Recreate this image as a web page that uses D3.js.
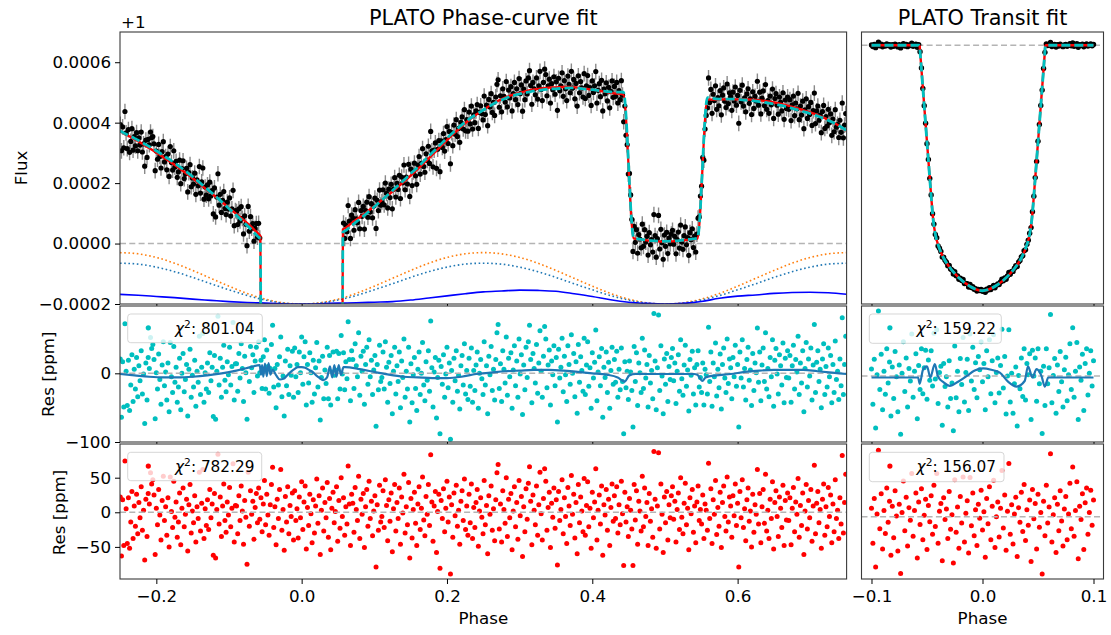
<!DOCTYPE html>
<html><head><meta charset="utf-8">
<script src="https://cdn.jsdelivr.net/npm/d3@7"></script>
<style>
body{margin:0;background:#fff}
svg{display:block}
text{font-family:"DejaVu Sans",sans-serif}
</style></head><body>
<svg id="fig" width="1111" height="635"></svg>
<script>
// ---------------- phase-curve bins (phase × 10^4) ----------------
const phaseE4 = [
-2496,-2480,-2464,-2448,-2432,-2416,-2400,-2384,-2368,-2352,-2336,-2320,-2304,-2288,-2272,-2256,-2240,-2224,-2208,-2192,-2176,-2160,-2144,-2128,-2112,
-2096,-2080,-2064,-2048,-2032,-2016,-2000,-1984,-1968,-1952,-1936,-1920,-1904,-1888,-1872,-1856,-1840,-1824,-1808,-1792,-1776,-1760,-1744,-1728,-1712,
-1696,-1680,-1664,-1648,-1632,-1616,-1600,-1584,-1568,-1552,-1536,-1520,-1504,-1488,-1472,-1456,-1440,-1424,-1408,-1392,-1376,-1360,-1344,-1328,-1312,
-1296,-1280,-1264,-1248,-1232,-1216,-1200,-1184,-1168,-1152,-1136,-1120,-1104,-1088,-1072,-1056,-1040,-1024,-1008,-992,-976,-960,-944,-928,-912,
-896,-880,-864,-848,-832,-816,-800,-784,-768,-752,-736,-720,-704,-688,-672,-656,-640,-624,-608,-592,-576,-560,-544,-528,-512,
-496,-480,-464,-448,-432,-416,-400,-384,-368,-352,-336,-320,-304,-288,-272,-256,-240,-224,-208,-192,-176,-160,-144,-128,-112,
-96,-80,-64,-48,-32,-16,0,16,32,48,64,80,96,112,128,144,160,176,192,208,224,240,256,272,288,
304,320,336,352,368,384,400,416,432,448,464,480,496,512,528,544,560,576,592,608,624,640,656,672,688,
704,720,736,752,768,784,800,816,832,848,864,880,896,912,928,944,960,976,992,1008,1024,1040,1056,1072,1088,
1104,1120,1136,1152,1168,1184,1200,1216,1232,1248,1264,1280,1296,1312,1328,1344,1360,1376,1392,1408,1424,1440,1456,1472,1488,
1504,1520,1536,1552,1568,1584,1600,1616,1632,1648,1664,1680,1696,1712,1728,1744,1760,1776,1792,1808,1824,1840,1856,1872,1888,
1904,1920,1936,1952,1968,1984,2000,2016,2032,2048,2064,2080,2096,2112,2128,2144,2160,2176,2192,2208,2224,2240,2256,2272,2288,
2304,2320,2336,2352,2368,2384,2400,2416,2432,2448,2464,2480,2496,2512,2528,2544,2560,2576,2592,2608,2624,2640,2656,2672,2688,
2704,2720,2736,2752,2768,2784,2800,2816,2832,2848,2864,2880,2896,2912,2928,2944,2960,2976,2992,3008,3024,3040,3056,3072,3088,
3104,3120,3136,3152,3168,3184,3200,3216,3232,3248,3264,3280,3296,3312,3328,3344,3360,3376,3392,3408,3424,3440,3456,3472,3488,
3504,3520,3536,3552,3568,3584,3600,3616,3632,3648,3664,3680,3696,3712,3728,3744,3760,3776,3792,3808,3824,3840,3856,3872,3888,
3904,3920,3936,3952,3968,3984,4000,4016,4032,4048,4064,4080,4096,4112,4128,4144,4160,4176,4192,4208,4224,4240,4256,4272,4288,
4304,4320,4336,4352,4368,4384,4400,4416,4432,4448,4464,4480,4496,4512,4528,4544,4560,4576,4592,4608,4624,4640,4656,4672,4688,
4704,4720,4736,4752,4768,4784,4800,4816,4832,4848,4864,4880,4896,4912,4928,4944,4960,4976,4992,5008,5024,5040,5056,5072,5088,
5104,5120,5136,5152,5168,5184,5200,5216,5232,5248,5264,5280,5296,5312,5328,5344,5360,5376,5392,5408,5424,5440,5456,5472,5488,
5504,5520,5536,5552,5568,5584,5600,5616,5632,5648,5664,5680,5696,5712,5728,5744,5760,5776,5792,5808,5824,5840,5856,5872,5888,
5904,5920,5936,5952,5968,5984,6000,6016,6032,6048,6064,6080,6096,6112,6128,6144,6160,6176,6192,6208,6224,6240,6256,6272,6288,
6304,6320,6336,6352,6368,6384,6400,6416,6432,6448,6464,6480,6496,6512,6528,6544,6560,6576,6592,6608,6624,6640,6656,6672,6688,
6704,6720,6736,6752,6768,6784,6800,6816,6832,6848,6864,6880,6896,6912,6928,6944,6960,6976,6992,7008,7024,7040,7056,7072,7088,
7104,7120,7136,7152,7168,7184,7200,7216,7232,7248,7264,7280,7296,7312,7328,7344,7360,7376,7392,7408,7424,7440,7456,7472,7488];

// binned flux, ppm above 1 (null: inside the primary transit, far below the axis)
const _ = null;
const fluxPpm = [
394,307,386,317,437,366,314,377,302,338,380,309,354,323,367,307,350,326,369,303,330,256,342,285,345,
327,369,351,354,330,241,306,279,328,288,250,304,337,270,288,244,296,222,321,268,243,307,253,272,219,
237,276,198,248,274,215,230,249,171,235,261,188,217,197,233,163,211,191,255,167,204,250,147,187,160,
194,148,203,158,175,98,184,88,154,231,127,163,103,143,172,116,96,137,114,151,91,115,176,59,109,
106,63,115,75,122,83,32,92,64,-7,123,41,89,51,66,8,50,66,21,67,18,_,_,_,_,
_,_,_,_,_,_,_,_,_,_,_,_,_,_,_,_,_,_,_,_,_,_,_,_,_,
_,_,_,_,_,_,_,_,_,_,_,_,_,_,_,_,_,_,_,_,_,_,_,_,_,
_,_,_,_,_,_,_,_,_,_,_,_,_,_,_,_,_,68,17,61,39,126,74,17,94,
84,44,112,82,69,136,49,109,90,123,48,109,137,87,155,104,132,85,124,150,50,143,109,177,127,
138,178,128,200,166,118,180,152,196,115,180,218,154,199,179,226,149,220,201,260,178,220,197,262,156,
246,192,237,266,224,196,260,288,230,265,314,255,236,297,275,322,265,371,307,254,309,333,249,312,341,
238,340,318,364,306,344,387,331,371,264,367,324,392,362,410,354,381,335,401,419,379,443,373,410,372,
435,396,455,379,426,400,439,460,381,434,456,430,409,488,427,458,390,477,452,496,434,467,424,485,527,
542,451,489,436,512,487,468,536,452,508,482,519,439,496,533,476,512,460,546,496,525,438,511,476,538,
495,548,572,523,461,533,512,492,548,478,522,570,510,473,533,577,559,489,522,544,465,529,509,552,494,
535,441,547,506,522,565,487,539,512,473,554,527,499,570,514,543,479,530,455,555,499,536,515,485,562,
480,522,556,490,516,457,538,500,522,569,465,507,529,486,540,439,511,496,532,472,517,449,504,538,484,
520,487,533,465,506,476,539,491,403,455,358,327,230,232,161,80,-26,57,4,46,-32,30,15,-14,64,
-9,46,5,24,-38,36,-4,13,-28,96,26,-45,16,93,-18,47,3,-52,28,-9,37,-33,18,-1,31,
44,-2,24,-34,13,38,-15,61,5,-19,26,55,-4,20,-39,36,13,49,-13,25,-28,31,84,88,157,
190,285,276,379,424,449,548,467,510,431,494,473,522,444,483,456,506,426,491,515,471,450,528,463,499,
486,441,501,472,518,458,490,398,507,469,524,455,482,436,495,512,464,479,427,502,447,487,472,537,458,
501,429,481,505,456,526,444,473,431,488,459,511,414,480,496,458,428,485,468,439,499,411,475,447,485,
444,476,407,459,488,423,465,446,497,410,455,425,471,380,442,479,414,453,427,467,391,440,498,397,439,
455,408,425,367,437,457,381,420,389,444,400,429,358,412,370,443,385,394,351,408,368,465,350,392,430];
const fluxErrPpm = 26;

// residuals of the red (solid) model, ppm
const resRed = [
22,-63,18,-48,74,5,-45,21,-52,-14,30,-38,9,-20,26,-31,14,-8,37,-26,3,-69,19,-35,27,
12,57,41,47,25,-61,6,-18,33,-4,-40,17,52,-12,8,-33,21,-50,51,1,-22,45,-7,15,-36,
-14,28,-47,6,35,-21,-3,19,-56,11,40,-30,2,-15,24,-43,8,-9,58,-27,13,62,-38,5,-19,
18,-25,33,-8,12,-62,27,-66,4,84,-17,22,-35,9,41,-12,-29,15,-4,36,-21,6,70,-43,10,
9,-31,24,-12,38,2,-46,17,-7,-75,58,-20,31,-3,16,-39,7,27,-15,35,-10,21,-28,12,46,
-18,26,-4,-33,11,40,65,-22,8,-47,19,-9,33,62,-26,4,-55,23,-14,37,-31,10,-6,28,-40,
31,-12,5,-37,22,-8,44,-25,15,38,-53,7,-19,26,-2,-44,18,-30,9,48,-16,24,-61,3,35,
-27,14,-8,43,-36,20,-54,6,29,-15,1,37,-42,17,-23,50,-6,21,-33,8,-17,67,12,-48,26,
13,-29,36,4,-12,52,-38,19,-3,27,-51,8,33,-20,45,-9,16,-34,2,24,-79,11,-26,39,-14,
-6,31,-22,47,10,-41,18,-13,28,-57,5,40,-27,14,-9,35,-46,22,-1,55,-30,8,-18,43,-66,
20,-37,4,29,-16,-48,12,37,-25,6,51,-11,-34,23,-3,40,-19,83,15,-42,9,30,-58,1,26,
-81,17,-9,34,-28,6,45,-14,22,-89,11,-36,28,-5,39,-20,3,-46,16,31,-12,48,-25,9,-33,
26,-15,41,-38,7,-22,14,33,-49,2,21,-7,-31,46,-18,10,-60,24,-3,38,-26,5,-41,18,57,
69,-24,12,-43,31,4,-16,50,-35,19,-8,27,-54,2,37,-21,14,-39,46,-5,23,-64,8,-28,34,
-10,42,66,16,-47,25,3,-18,38,-33,11,58,-2,-40,20,63,45,-26,7,29,-51,13,-7,35,-23,
18,-76,30,-12,4,47,-31,21,-6,-45,36,9,-19,53,-3,26,-37,14,-60,40,-15,22,2,-28,49,
-33,10,44,-21,6,-52,29,-8,15,63,-40,3,25,-17,38,-62,11,-4,33,-26,19,-48,7,41,-13,
24,-9,37,-30,11,-18,45,-2,-77,29,-14,8,-35,20,3,-24,-77,40,-11,31,-46,16,2,-27,52,
-21,35,-6,14,-48,27,-13,5,-36,88,19,-52,9,86,-24,41,-3,-58,22,-15,30,-40,11,-8,24,
37,-10,16,-43,4,28,-25,50,-7,-31,13,42,-18,6,-54,21,-2,33,-29,9,-44,15,38,-12,4,
-17,25,-38,12,3,-26,71,-9,34,-45,18,-3,46,-32,7,-20,29,-51,14,38,-6,-27,51,-14,22,
9,-36,24,-5,41,-19,13,-79,30,-8,47,-22,5,-41,18,35,-13,2,-50,26,-29,11,-3,62,-17,
27,-44,8,33,-16,55,-27,3,-38,19,-9,44,-53,14,31,-6,-35,22,6,-22,39,-48,17,-11,28,
-12,21,-47,6,36,-28,15,-3,49,-36,10,-19,28,-61,2,40,-24,17,-8,33,-42,9,68,-31,13,
30,-15,4,-52,19,41,-33,8,-21,36,-6,25,-44,12,-28,47,-9,3,-38,21,-17,82,-30,14,55];

// residuals of the cyan (dashed) model, ppm
const resCyan = [
21,-64,17,-49,72,3,-47,19,-54,-17,27,-41,6,-23,23,-34,11,-11,33,-30,-1,-73,15,-39,23,
7,52,36,42,20,-66,1,-23,28,-9,-45,12,46,-18,2,-39,15,-56,45,-5,-28,39,-13,9,-42,
-20,22,-53,0,29,-27,-9,13,-62,6,35,-35,-3,-20,19,-48,3,-13,54,-31,9,58,-42,1,-23,
15,-28,30,-11,9,-63,26,-67,3,83,-17,22,-35,9,41,-10,-27,17,-2,38,-17,10,74,-39,14,
14,-26,29,-7,43,7,-41,25,1,-67,66,-12,39,8,27,-28,18,38,-4,46,1,19,-22,24,49,
-23,34,10,-29,7,42,70,-20,7,-50,13,-17,24,53,-34,-4,-62,18,-18,35,-31,11,-3,32,-35,
37,-5,13,-28,31,1,53,-16,24,46,-46,13,-14,30,1,-42,19,-30,8,45,-20,18,-68,-6,25,
-37,5,-15,38,-37,26,-46,2,31,-3,5,32,-37,29,-23,55,-1,30,-24,17,-8,75,20,-40,33,
20,-22,43,11,-5,59,-32,25,3,32,-45,13,38,-16,49,-5,19,-31,5,26,-77,13,-24,41,-12,
-6,31,-23,46,9,-42,16,-15,26,-59,3,38,-30,11,-12,31,-50,18,-6,50,-35,3,-23,38,-71,
14,-43,-2,23,-22,-54,6,31,-31,0,45,-17,-40,17,-10,33,-26,76,8,-49,2,23,-65,-6,19,
-88,10,-16,27,-35,-1,38,-21,15,-96,4,-42,22,-11,33,-26,-3,-52,11,26,-17,43,-30,4,-38,
22,-19,37,-42,4,-25,12,31,-51,0,20,-8,-31,46,-17,11,-59,25,-2,39,-25,6,-39,20,59,
71,-22,14,-41,33,6,-14,53,-32,22,-5,30,-51,5,40,-18,18,-35,50,-1,27,-60,12,-24,38,
-6,46,70,20,-43,29,7,-14,42,-29,15,62,3,-35,25,68,50,-21,12,34,-46,18,-2,40,-18,
23,-71,35,-7,9,51,-27,25,-2,-41,40,13,-16,56,0,29,-34,17,-58,42,-13,24,4,-26,51,
-31,12,46,-19,8,-51,30,-7,16,63,-40,2,24,-18,36,-64,9,-6,31,-28,16,-51,4,38,-16,
20,-13,32,-35,6,-24,37,-12,-88,17,-21,3,-38,18,2,-25,-78,39,-12,30,-47,15,1,-28,51,
-22,34,-7,13,-49,26,-14,4,-37,87,18,-53,8,85,-25,40,-4,-59,21,-16,29,-41,10,-9,23,
36,-11,15,-44,3,27,-26,49,-8,-32,12,41,-19,5,-55,20,-3,32,-30,8,-46,13,33,-20,-6,
-28,15,-46,6,-2,-30,67,-12,31,-48,15,-5,44,-33,6,-21,28,-52,13,37,-7,-28,50,-15,21,
8,-37,23,-5,41,-19,13,-78,31,-7,49,-20,7,-39,20,38,-10,5,-47,29,-25,15,1,66,-13,
31,-40,12,37,-12,59,-23,7,-34,23,-5,49,-48,19,36,-1,-30,27,11,-17,44,-43,22,-6,33,
-7,26,-42,11,41,-23,20,2,54,-31,15,-14,33,-56,7,45,-20,21,-4,37,-39,12,71,-28,16,
33,-12,6,-50,21,43,-31,10,-20,37,-5,26,-43,13,-28,47,-9,3,-38,21,-18,81,-31,13,54];

// fitted phase-curve models (knots, ppm)
const modelPhase = [-0.25,-0.24,-0.23,-0.22,-0.21,-0.20,-0.19,-0.18,-0.17,-0.16,-0.15,-0.14,-0.13,-0.12,-0.11,-0.10,-0.09,-0.08,-0.07,
 -0.065,-0.06,-0.0576,-0.0568,-0.0562,-0.05,0,0.05,0.0562,0.0568,0.06,
 0.07,0.08,0.09,0.10,0.11,0.12,0.13,0.14,0.15,0.16,0.17,0.18,0.19,0.20,0.21,0.22,0.23,0.24,0.25,0.26,0.27,0.28,0.29,0.30,0.31,0.32,0.33,0.34,0.35,0.36,0.37,0.38,0.39,0.40,0.41,0.42,0.43,
 0.4428,0.457,0.47,0.48,0.49,0.50,0.51,0.52,0.53,0.5447,0.5585,
 0.57,0.58,0.59,0.60,0.61,0.62,0.63,0.64,0.65,0.66,0.67,0.68,0.69,0.70,0.71,0.72,0.73,0.74,0.75];
const modelRed = [372,358,345,331,316,301,285,269,252,234,216,197,177,158,138,118,98,78,57,
 45,34,28,25,-300,-3000,-7570,-3000,-300,47,51,
 70,87,105,124,143,162,182,203,225,247,270,294,318,342,365,387,408,426,442,458,472,483,492,499,505,510,513,516,517,518,518,516,513,509,505,501,497,
 493,17,12,9,7,6,7,9,12,16,477,
 476,477,477,477,477,476,474,471,467,462,456,449,442,434,425,415,403,389,373];
const modelCyan = [373,360,348,335,321,307,291,275,258,240,221,201,180,160,138,116,94,71,48,
 35,23,17,14,-300,-3000,-7570,-3000,-300,38,42,
 62,81,101,122,143,164,186,208,231,253,277,301,325,349,371,392,411,427,442,457,470,480,489,495,500,505,508,511,512,514,515,514,511,509,506,503,501,
 501,19,13,10,8,7,8,10,13,18,483,
 479,478,478,477,475,473,470,466,462,457,451,444,437,430,422,413,402,389,374];

// model components drawn below the light curve (ppm)
const compPhase = [-0.25,-0.225,-0.2,-0.175,-0.15,-0.125,-0.1,-0.075,-0.05,-0.025,0,0.025,0.05,0.075,0.1,0.125,0.15,0.175,0.2,0.225,
 0.25,0.275,0.3,0.325,0.35,0.375,0.4,0.425,0.45,0.475,0.5,0.525,0.55,0.575,0.6,0.625,0.65,0.675,0.7,0.725,0.75];
const compOrange = [-30,-34,-46,-65,-89,-115,-141,-165,-184,-196,-200,-196,-184,-165,-141,-115,-89,-65,-46,-34,
 -30,-34,-46,-65,-89,-115,-141,-165,-184,-196,-200,-196,-184,-165,-141,-115,-89,-65,-46,-34,-30];
const compBlueDotted = [-65,-68,-78,-93,-112,-133,-153,-172,-187,-197,-200,-197,-187,-172,-153,-133,-112,-93,-78,-68,
 -65,-68,-78,-93,-112,-133,-153,-172,-187,-197,-200,-197,-187,-172,-153,-133,-112,-93,-78,-68,-65];
const compBlue = [-168,-171,-175,-179,-184,-188,-192,-195,-197,-199,-200,-199,-197,-196,-194,-192,-187,-180,-173,-166,
 -160,-157,-154,-155,-158,-166,-175,-186,-194,-198,-200,-198,-192,-181,-174,-170,-165,-162,-161,-163,-168];

// difference between the two fits, drawn over the cyan residuals (ppm)
const diffPhase = [-0.25,-0.23,-0.21,-0.19,-0.17,-0.15,-0.13,-0.11,-0.09,-0.07,-0.0576,-0.056,-0.0544,-0.0528,-0.0505,-0.048,-0.0455,-0.043,-0.04,-0.035,
 -0.03,-0.025,-0.02,-0.015,-0.01,-0.005,0,0.005,0.01,0.015,0.02,0.025,0.03,0.035,0.039,0.042,0.045,0.048,0.051,0.054,
 0.0576,0.06,0.08,0.10,0.12,0.14,0.16,0.18,0.20,0.22,0.24,0.26,0.28,0.30,0.32,0.34,0.36,0.38,0.40,0.42,
 0.435,0.4445,0.451,0.46,0.50,0.54,0.5445,0.5515,0.556,0.57,0.59,0.61,0.63,0.65,0.67,0.69,0.71,0.73,0.75];
const diffPpm = [-1,-3,-5,-6,-6,-5,-3,0,4,9,12,-2,12,-5,14,-4,15,-2,5,-3,
 -9,-8,-3,2,6,9,9,8,5,2,-3,-7,-10,-6,10,-6,12,-5,12,-2,
 9,9,6,2,-2,-5,-6,-7,-7,-5,-1,1,3,4,5,5,4,2,0,-2,
 -6,-12,-3,-1,-1,-1,-2,-11,-6,-3,-1,2,4,5,5,5,3,1,-1];

// ---------------- primary transit (phase × 10^5) ----------------
const trPhaseE5 = [
-10000,-9875,-9750,-9625,-9500,-9375,-9250,-9125,-9000,-8875,-8750,-8625,-8500,-8375,-8250,-8125,-8000,-7875,-7750,-7625,
-7500,-7375,-7250,-7125,-7000,-6875,-6750,-6625,-6500,-6375,-6250,-6125,-6000,-5875,-5750,-5625,-5500,-5375,-5250,-5125,
-5000,-4875,-4750,-4625,-4500,-4375,-4250,-4125,-4000,-3875,-3750,-3625,-3500,-3375,-3250,-3125,-3000,-2875,-2750,-2625,
-2500,-2375,-2250,-2125,-2000,-1875,-1750,-1625,-1500,-1375,-1250,-1125,-1000,-875,-750,-625,-500,-375,-250,-125,
0,125,250,375,500,625,750,875,1000,1125,1250,1375,1500,1625,1750,1875,2000,2125,2250,2375,
2500,2625,2750,2875,3000,3125,3250,3375,3500,3625,3750,3875,4000,4125,4250,4375,4500,4625,4750,4875,
5000,5125,5250,5375,5500,5625,5750,5875,6000,6125,6250,6375,6500,6625,6750,6875,7000,7125,7250,7375,
7500,7625,7750,7875,8000,8125,8250,8375,8500,8625,8750,8875,9000,9125,9250,9375,9500,9625,9750,9875,10000];
const trFluxPpm = [
12,-38,26,-72,4,95,-17,33,-46,9,-24,41,-8,22,-55,15,-30,37,1,-49,
18,-81,6,51,-20,28,-42,13,-5,62,-28,9,34,-59,21,-201,-700,-1333,-1863,-2405,
-3037,-3524,-4107,-4620,-5195,-5515,-5834,-5938,-6188,-6262,-6361,-6533,-6533,-6634,-6689,-6801,-6794,-6898,-6932,-7056,
-6987,-7107,-7111,-7215,-7181,-7254,-7223,-7351,-7345,-7357,-7457,-7379,-7473,-7446,-7527,-7510,-7581,-7532,-7562,-7529,
-7589,-7560,-7618,-7524,-7550,-7477,-7533,-7465,-7408,-7479,-7405,-7359,-7379,-7303,-7214,-7261,-7179,-7218,-7117,-7009,
-7065,-6973,-6974,-6876,-6802,-6827,-6687,-6638,-6525,-6491,-6334,-6304,-6140,-6012,-5796,-5624,-5131,-4653,-4081,-3586,
-2958,-2445,-1859,-1382,-718,-217,45,-9,14,90,-36,3,27,-51,18,-20,37,-6,-42,11,
29,-33,4,48,-17,71,-28,9,50,-60,15,-4,33,-47,20,41,-25,6,38,-12,24];
const trResRed = [
12,-38,26,-72,4,95,-17,33,-46,9,-24,41,-8,22,-55,15,-30,37,1,-49,
18,-81,6,51,-20,28,-42,13,-5,62,-28,9,34,-59,21,-11,40,-33,2,25,
-47,16,-7,30,-25,45,-14,62,-38,8,19,-63,27,-4,11,-31,36,-18,3,-66,
53,-22,14,-45,29,-9,57,-36,5,23,-52,56,-13,34,-27,10,-41,18,-2,38,
-19,7,-58,26,-10,43,-33,15,52,-44,0,21,-29,12,66,-16,31,-48,8,76,
-25,17,-39,4,28,-57,13,-8,35,-21,46,-34,10,-12,24,-64,39,-3,19,-46,
32,-15,6,-82,22,-27,45,-9,14,90,-36,3,27,-51,18,-20,37,-6,-42,11,
29,-33,4,48,-17,71,-28,9,50,-60,15,-4,33,-47,20,41,-25,6,38,-12,24];
const trResCyan = [
10,-40,24,-74,2,93,-19,31,-48,7,-26,39,-10,20,-57,13,-32,35,-1,-51,
16,-83,4,49,-22,26,-44,11,-7,60,-30,7,32,-61,15,-19,39,-25,12,37,
-33,23,-6,36,-14,61,-4,66,-39,5,14,-70,18,-15,-1,-44,22,-32,-10,-78,
43,-31,7,-51,25,-12,55,-37,5,24,-49,60,-7,41,-19,19,-31,28,9,49,
-8,18,-48,36,-1,52,-25,22,59,-38,5,26,-24,15,67,-17,28,-54,0,66,
-37,4,-53,-11,13,-71,1,-18,26,-29,39,-34,18,2,32,-62,37,0,26,-36,
39,-11,7,-82,14,-42,39,-11,12,88,-38,1,25,-53,16,-22,35,-8,-44,9,
27,-35,2,46,-19,69,-30,7,48,-62,13,-6,31,-49,18,39,-27,4,36,-14,22];

const trModelPhase = [-0.1,-0.0572,-0.0566,-0.056,-0.055,-0.054,-0.053,-0.052,-0.051,-0.05,-0.049,-0.048,-0.047,-0.046,-0.045,-0.044,-0.043,-0.042,-0.04,-0.038,
 -0.035,-0.03,-0.025,-0.02,-0.015,-0.01,-0.005,0,0.005,0.01,0.015,0.02,0.025,0.03,0.035,0.038,0.04,0.042,0.043,0.044,
 0.045,0.046,0.047,0.048,0.049,0.05,0.051,0.052,0.053,0.054,0.055,0.056,0.0566,0.0572,0.1];
const trModel = [0,0,-30,-290,-740,-1190,-1640,-2090,-2540,-2990,-3430,-3880,-4320,-4760,-5170,-5500,-5730,-5910,-6150,-6340,
 -6560,-6830,-7040,-7210,-7350,-7460,-7540,-7570,-7540,-7460,-7350,-7210,-7040,-6830,-6560,-6340,-6150,-5910,-5730,-5500,
 -5170,-4760,-4320,-3880,-3430,-2990,-2540,-2090,-1640,-1190,-740,-290,-30,0,0];
const trDiffPhase = [-0.1,-0.058,-0.0566,-0.0536,-0.05,-0.047,-0.043,-0.04,-0.035,-0.0295,-0.022,-0.0144,-0.007,0.0005,0.008,0.0156,0.023,0.0307,0.038,0.041,0.045,0.0487,0.0532,0.0562,0.0592,0.1];
const trDiff = [-2,-2,-11,9,14,-2,17,-1,-9,-14,-8,0,8,11,9,5,-8,-15,-7,14,-2,10,0,-15,-2,-2];

// goodness of fit shown in the legends
const chiPhaseCurve = ["801.04", "782.29"];
const chiTransit = ["159.22", "156.07"];

// tick values
const fluxTicks = [-200, 0, 200, 400, 600];
const resTicksMid = [-100, 0];
const resTicksBot = [-50, 0, 50];
const phaseTicks = [-0.2, 0, 0.2, 0.4, 0.6];
const trPhaseTicks = [-0.1, 0, 0.1];

// ---------------- drawing ----------------
const RED = "#ff0000", CYAN = "#00bfbf", TABBLUE = "#1f77b4", TABORANGE = "#ff7f0e";
const FS = 16.7;
const svg = d3.select("#fig");
const defs = svg.append("defs");

const xMain = d3.scaleLinear().domain([-0.25, 0.75]).range([120, 846.6]);
const xTr = d3.scaleLinear().domain([-0.109, 0.109]).range([861.5, 1103.5]);
const yTop = d3.scaleLinear().domain([-200, 700]).range([304, 32]);
const yMid = d3.scaleLinear().domain([-100, 98]).range([442, 306]);
const yBot = d3.scaleLinear().domain([-96.4, 98.7]).range([579, 444]);
const yTrTop = d3.scaleLinear().domain([-7980, 410]).range([304, 32]);
const yTrMid = d3.scaleLinear().domain([-94, 100]).range([442, 306]);
const yTrBot = d3.scaleLinear().domain([-89, 104]).range([579, 444]);

let clipN = 0;
function makePanel(x, y) {
  const [x0, x1] = x.range();
  const [yb, yt] = y.range();
  const id = "clip" + (clipN++);
  defs.append("clipPath").attr("id", id).append("rect")
    .attr("x", x0).attr("y", yt).attr("width", x1 - x0).attr("height", yb - yt);
  const root = svg.append("g");
  root.append("rect").attr("x", x0).attr("y", yt).attr("width", x1 - x0).attr("height", yb - yt).attr("fill", "#fff");
  const plot = root.append("g").attr("clip-path", `url(#${id})`);
  return { x, y, root, plot, x0, x1, yt, yb };
}
function frame(p) {
  p.root.append("rect").attr("x", p.x0).attr("y", p.yt)
    .attr("width", p.x1 - p.x0).attr("height", p.yb - p.yt)
    .attr("fill", "none").attr("stroke", "#3a3a3a").attr("stroke-width", 1.1);
}
const minus = s => s.replace("-", "\u2212");
function styleAxis(g) {
  g.select(".domain").remove();
  g.attr("font-family", "DejaVu Sans, sans-serif").attr("font-size", FS).attr("color", "#000");
  g.selectAll(".tick line").attr("stroke-width", 1);
}
function xAxis(p, ticks, labelled, fmt) {
  const ax = d3.axisBottom(p.x).tickValues(ticks).tickSize(5).tickPadding(6.5)
    .tickFormat(labelled ? fmt : () => "");
  p.root.append("g").attr("transform", `translate(0,${p.yb})`).call(ax).call(styleAxis);
}
function yAxis(p, ticks, fmt) {
  const ax = d3.axisLeft(p.y).tickValues(ticks).tickSize(5).tickPadding(4).tickFormat(fmt);
  p.root.append("g").attr("transform", `translate(${p.x0},0)`).call(ax).call(styleAxis);
}
function curve(p, xs, ys) {
  return d3.line().x(d => p.x(d[0])).y(d => p.y(d[1])).curve(d3.curveMonotoneX)(d3.zip(xs, ys));
}
function zeroLine(p, v) {
  p.plot.append("line").attr("x1", p.x0).attr("x2", p.x1).attr("y1", p.y(v)).attr("y2", p.y(v))
    .attr("stroke", "#b4b4b4").attr("stroke-width", 1.5).attr("stroke-dasharray", "6,3.3");
}
function dots(p, xs, ys, color, r) {
  p.plot.append("g").selectAll("circle").data(d3.zip(xs, ys)).join("circle")
    .attr("cx", d => p.x(d[0])).attr("cy", d => p.y(d[1])).attr("r", r).attr("fill", color);
}
function legend(p, x0, y0, w, h, color, chi) {
  const g = p.root.append("g");
  g.append("rect").attr("x", x0).attr("y", y0).attr("width", w).attr("height", h).attr("rx", 3)
    .attr("fill", "#fff").attr("fill-opacity", 0.8).attr("stroke", "#cccccc").attr("stroke-opacity", 0.8);
  g.append("circle").attr("cx", x0 + 20.6).attr("cy", y0 + 13.8).attr("r", 2.6).attr("fill", color);
  const t = g.append("text").attr("x", x0 + 47.3).attr("y", y0 + 20).attr("font-size", 15.3).attr("fill", "#000");
  t.append("tspan").attr("font-style", "italic").text("\u03c7");
  t.append("tspan").attr("dy", -6.5).attr("font-size", 10.7).text("2");
  t.append("tspan").attr("dy", 6.5).text(": " + chi);
}

const phase = phaseE4.map(v => v / 1e4);
const trPhase = trPhaseE5.map(v => v / 1e5);

// ---- phase curve: flux ----
const pTop = makePanel(xMain, yTop);
zeroLine(pTop, 0);
pTop.plot.append("path").attr("d", curve(pTop, compPhase, compOrange)).attr("fill", "none")
  .attr("stroke", TABORANGE).attr("stroke-width", 1.6).attr("stroke-dasharray", "1.6,2.6");
pTop.plot.append("path").attr("d", curve(pTop, compPhase, compBlueDotted)).attr("fill", "none")
  .attr("stroke", TABBLUE).attr("stroke-width", 1.6).attr("stroke-dasharray", "1.6,2.6");
pTop.plot.append("path").attr("d", curve(pTop, compPhase, compBlue)).attr("fill", "none")
  .attr("stroke", "#0000ff").attr("stroke-width", 1.6);
const obs = d3.zip(phase, fluxPpm).filter(d => d[1] !== null);
pTop.plot.append("g").selectAll("line").data(obs).join("line")
  .attr("x1", d => xMain(d[0])).attr("x2", d => xMain(d[0]))
  .attr("y1", d => yTop(d[1] - fluxErrPpm)).attr("y2", d => yTop(d[1] + fluxErrPpm))
  .attr("stroke", "#8a8a8a").attr("stroke-width", 1.4);
dots(pTop, obs.map(d => d[0]), obs.map(d => d[1]), "#000", 2.6);
pTop.plot.append("path").attr("d", curve(pTop, modelPhase, modelRed)).attr("fill", "none")
  .attr("stroke", RED).attr("stroke-width", 2.3);
pTop.plot.append("path").attr("d", curve(pTop, modelPhase, modelCyan)).attr("fill", "none")
  .attr("stroke", CYAN).attr("stroke-width", 2.8).attr("stroke-dasharray", "9,4");
frame(pTop);
xAxis(pTop, phaseTicks, false);
yAxis(pTop, fluxTicks, v => minus((v / 1e6).toFixed(4)));

// ---- phase curve: residuals of the cyan fit ----
const pMid = makePanel(xMain, yMid);
dots(pMid, phase, resCyan, CYAN, 2.5);
zeroLine(pMid, 0);
pMid.plot.append("path").attr("d", curve(pMid, diffPhase, diffPpm)).attr("fill", "none")
  .attr("stroke", TABBLUE).attr("stroke-width", 2.2);
legend(pMid, 127.7, 314, 134.6, 28.7, CYAN, chiPhaseCurve[0]);
frame(pMid);
xAxis(pMid, phaseTicks, false);
yAxis(pMid, resTicksMid, v => minus(String(v)));

// ---- phase curve: residuals of the red fit ----
const pBot = makePanel(xMain, yBot);
dots(pBot, phase, resRed, RED, 2.5);
zeroLine(pBot, 0);
legend(pBot, 127.7, 452.3, 134, 28.4, RED, chiPhaseCurve[1]);
frame(pBot);
xAxis(pBot, phaseTicks, true, v => minus(v.toFixed(1)));
yAxis(pBot, resTicksBot, v => minus(String(v)));

// ---- transit: flux ----
const tTop = makePanel(xTr, yTrTop);
zeroLine(tTop, 0);
tTop.plot.append("g").selectAll("circle").data(d3.zip(trPhase, trFluxPpm)).join("circle")
  .attr("cx", d => xTr(d[0])).attr("cy", d => yTrTop(d[1])).attr("r", 2.7)
  .attr("fill", "#000");
tTop.plot.append("path").attr("d", curve(tTop, trModelPhase, trModel)).attr("fill", "none")
  .attr("stroke", RED).attr("stroke-width", 2.4);
tTop.plot.append("path").attr("d", curve(tTop, trModelPhase, trModel)).attr("fill", "none")
  .attr("stroke", CYAN).attr("stroke-width", 2.9).attr("stroke-dasharray", "9,4");
frame(tTop);
xAxis(tTop, trPhaseTicks, false);

// ---- transit: residuals of the cyan fit ----
const tMid = makePanel(xTr, yTrMid);
dots(tMid, trPhase, trResCyan, CYAN, 2.5);
zeroLine(tMid, 0);
tMid.plot.append("path").attr("d", curve(tMid, trDiffPhase, trDiff)).attr("fill", "none")
  .attr("stroke", TABBLUE).attr("stroke-width", 2.2);
legend(tMid, 869.3, 314, 132, 29.3, CYAN, chiTransit[0]);
frame(tMid);
xAxis(tMid, trPhaseTicks, false);

// ---- transit: residuals of the red fit ----
const tBot = makePanel(xTr, yTrBot);
dots(tBot, trPhase, trResRed, RED, 2.5);
zeroLine(tBot, 0);
legend(tBot, 869.3, 452.3, 134.7, 29.4, RED, chiTransit[1]);
frame(tBot);
xAxis(tBot, trPhaseTicks, true, v => minus(v.toFixed(1)));

// ---- titles and labels ----
const txt = (x, y, s, size, anchor) => svg.append("text").attr("x", x).attr("y", y)
  .attr("font-size", size).attr("text-anchor", anchor || "middle").attr("fill", "#000").text(s);
txt(483.3, 25, "PLATO Phase-curve fit", 20.8);
txt(982.5, 25, "PLATO Transit fit", 20.8);
txt(121, 28, "+1", FS, "start");
txt(483.3, 624, "Phase", FS);
txt(982.5, 624, "Phase", FS);
const vlab = (x, y, s) => svg.append("text").attr("transform", `translate(${x},${y}) rotate(-90)`)
  .attr("font-size", FS).attr("text-anchor", "middle").attr("fill", "#000").text(s);
vlab(26.5, 168, "Flux");
vlab(54, 374.2, "Res [ppm]");
vlab(64.5, 512.5, "Res [ppm]");
</script>
</body></html>
